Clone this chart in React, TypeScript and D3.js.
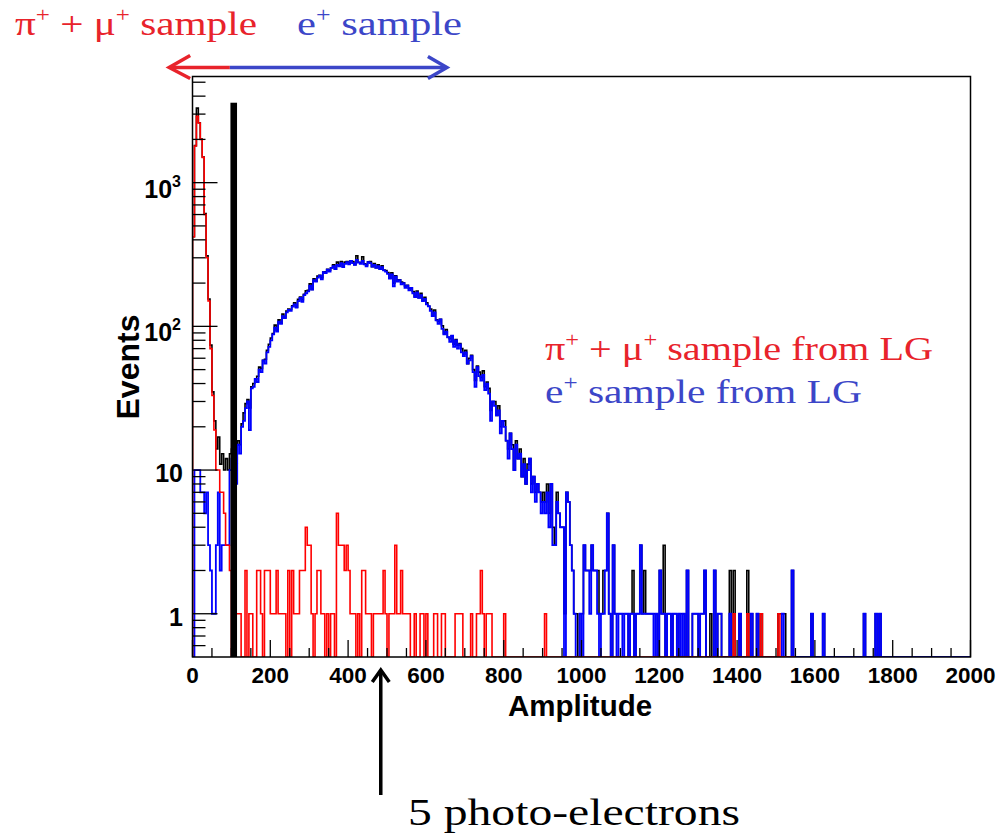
import React from "react";
import * as d3 from "d3";

// ---------------- data (bin width 5, 400 bins from 0 to 2000) ----------------
const BIN_WIDTH = 5;
const X_DOMAIN: [number, number] = [0, 2000];
const Y_DOMAIN: [number, number] = [0.5, 5480];

// pi+ + mu+ sample (red)
const redCounts = [
  420, 1800, 2900, 2600, 2000, 1500, 600, 300, 150, 70, 33, 19, 10, 10, 7, 7, 5, 3, 3, 2,
  0, 0, 1, 1, 1, 0, 0, 2, 0, 1, 1, 0, 0, 2, 2, 1, 0, 2, 2, 2,
  1, 1, 1, 2, 1, 1, 1, 1, 0, 2, 0, 2, 1, 1, 1, 2, 2, 2, 4, 3,
  3, 1, 0, 1, 2, 2, 1, 1, 0, 1, 0, 1, 1, 0, 5, 3, 3, 3, 2, 3,
  2, 1, 1, 1, 0, 1, 0, 2, 2, 1, 1, 1, 0, 1, 1, 1, 1, 1, 2, 1,
  0, 1, 1, 1, 3, 1, 1, 2, 1, 1, 1, 1, 0, 0, 1, 0, 0, 1, 1, 0,
  1, 0, 0, 0, 1, 1, 0, 0, 1, 1, 0, 0, 0, 0, 0, 1, 1, 1, 1, 0,
  0, 0, 0, 1, 0, 0, 1, 1, 2, 1, 0, 1, 1, 1, 0, 0, 0, 0, 0, 0,
  1, 0, 0, 0, 0, 0, 0, 0, 0, 0, 0, 0, 0, 0, 0, 0, 0, 0, 0, 0,
  0, 1, 0, 0, 0, 0, 0, 0, 0, 0, 0, 0, 0, 0, 0, 0, 0, 0, 0, 0,
  0, 0, 0, 0, 0, 0, 0, 0, 0, 0, 0, 0, 0, 0, 0, 0, 0, 0, 0, 0,
  0, 0, 0, 0, 0, 0, 0, 0, 0, 0, 0, 0, 0, 0, 0, 0, 0, 0, 0, 0,
  0, 0, 0, 0, 0, 0, 0, 0, 0, 0, 0, 0, 0, 0, 0, 0, 0, 0, 0, 0,
  0, 0, 0, 0, 0, 0, 0, 0, 0, 0, 0, 0, 0, 0, 0, 0, 0, 0, 1, 0,
  0, 0, 0, 0, 0, 1, 0, 0, 0, 0, 0, 0, 1, 0, 0, 0, 0, 0, 0, 0,
  0, 1, 0, 0, 0, 0, 0, 0, 0, 0, 0, 0, 0, 0, 0, 0, 0, 0, 0, 0,
  0, 0, 0, 0, 0, 0, 0, 0, 0, 0, 0, 0, 0, 0, 0, 0, 0, 0, 0, 0,
  0, 0, 0, 0, 0, 0, 0, 0, 0, 0, 0, 0, 0, 0, 0, 0, 0, 0, 0, 0,
  0, 0, 0, 0, 0, 0, 0, 0, 0, 0, 0, 0, 0, 0, 0, 0, 0, 0, 0, 0,
  0, 0, 0, 0, 0, 0, 0, 0, 0, 0, 0, 0, 0, 0, 0, 0, 0, 0, 0, 0,
];

// e+ sample (blue)
const blueCounts = [
  0, 10, 10, 10, 7, 7, 5, 7, 3, 2, 1, 1, 3, 7, 2, 3, 3, 3, 3, 10,
  12, 7, 8, 15, 13, 20, 22, 27, 30, 19, 37, 38, 43, 41, 50, 48, 58, 55, 66, 72,
  80, 88, 98, 92, 108, 104, 118, 114, 125, 130, 128, 137, 142, 135, 150, 158, 148, 165, 170, 175,
  192, 180, 210, 205, 218, 225, 212, 238, 235, 248, 240, 255, 262, 250, 268, 262, 275, 258, 272, 280,
  270, 285, 275, 268, 290, 278, 272, 285, 270, 262, 280, 275, 260, 268, 255, 262, 250, 258, 245, 240,
  232, 215, 230, 190, 222, 205, 210, 196, 200, 185, 192, 178, 185, 170, 160, 172, 158, 165, 150, 155,
  142, 138, 128, 118, 125, 110, 104, 112, 96, 88, 92, 84, 78, 86, 72, 80, 70, 75, 66, 62,
  66, 55, 58, 62, 48, 38, 52, 45, 42, 46, 36, 40, 34, 22, 30, 28, 24, 26, 18, 22,
  20, 16, 12, 18, 14, 10, 15, 12, 13, 9, 11, 8, 10, 12, 7, 9, 6, 8, 7, 5,
  6, 5, 7, 4, 8, 3, 3, 6, 5, 4, 4, 0, 7, 6, 3, 2, 1, 0, 0, 1,
  0, 3, 2, 2, 1, 3, 2, 2, 1, 0, 1, 1, 2, 5, 1, 0, 3, 1, 0, 1,
  1, 0, 1, 1, 0, 1, 1, 0, 1, 1, 3, 1, 1, 1, 1, 1, 1, 0, 1, 0,
  2, 1, 1, 0, 1, 1, 0, 1, 1, 0, 1, 0, 1, 0, 2, 0, 0, 1, 1, 1,
  0, 1, 1, 2, 0, 0, 0, 0, 2, 0, 1, 1, 0, 0, 0, 0, 1, 0, 0, 0,
  0, 1, 0, 0, 0, 0, 0, 1, 0, 0, 1, 0, 0, 0, 0, 0, 0, 0, 0, 0,
  0, 0, 0, 1, 0, 0, 0, 0, 2, 0, 0, 0, 0, 0, 0, 0, 0, 0, 1, 0,
  0, 0, 0, 0, 1, 0, 0, 0, 0, 0, 0, 0, 0, 0, 0, 0, 0, 0, 0, 0,
  0, 0, 0, 0, 0, 1, 0, 0, 0, 0, 0, 1, 0, 1, 0, 0, 0, 0, 0, 0,
  0, 0, 0, 0, 0, 0, 0, 0, 0, 0, 0, 0, 0, 0, 0, 0, 0, 0, 0, 0,
  0, 0, 0, 0, 0, 0, 0, 0, 0, 0, 0, 0, 0, 0, 0, 0, 0, 0, 0, 0,
];

// all events (black)
const blackCounts = [
  420, 1810, 3300, 2610, 2010, 1510, 610, 310, 155, 74, 35, 22, 14, 17, 11, 13, 10, 12, 10, 13,
  14, 9, 11, 16, 15, 21, 25, 29, 31, 27, 38, 40, 43, 45, 52, 51, 58, 59, 68, 75,
  83, 89, 102, 94, 111, 105, 122, 115, 128, 132, 131, 139, 146, 136, 154, 160, 153, 167, 177, 178,
  198, 181, 214, 206, 224, 227, 218, 239, 240, 249, 246, 256, 268, 250, 280, 265, 283, 261, 280, 283,
  276, 286, 282, 269, 310, 279, 278, 305, 272, 268, 281, 282, 260, 274, 256, 268, 251, 264, 247, 245,
  237, 216, 236, 200, 225, 211, 211, 203, 201, 191, 193, 184, 185, 175, 161, 176, 158, 170, 151, 159,
  146, 138, 132, 118, 130, 111, 108, 112, 101, 89, 95, 84, 82, 86, 75, 81, 74, 76, 70, 64,
  68, 55, 60, 63, 50, 42, 53, 48, 44, 49, 38, 41, 37, 26, 30, 30, 24, 28, 20, 22,
  22, 16, 14, 18, 15, 10, 16, 12, 14, 9, 12, 8, 11, 12, 8, 9, 7, 8, 7, 6,
  7, 6, 8, 5, 8, 4, 3, 7, 5, 4, 4, 1, 7, 6, 3, 2, 1, 1, 0, 1,
  1, 3, 2, 2, 2, 3, 2, 2, 2, 1, 1, 2, 2, 5, 1, 0, 3, 1, 1, 1,
  1, 1, 1, 1, 0, 1, 2, 0, 1, 1, 3, 1, 2, 1, 1, 1, 1, 1, 1, 0,
  2, 1, 3, 0, 1, 1, 0, 1, 1, 0, 1, 1, 1, 0, 2, 0, 0, 1, 1, 1,
  0, 1, 1, 2, 0, 0, 1, 0, 2, 0, 1, 1, 0, 0, 0, 0, 2, 0, 2, 0,
  0, 1, 0, 0, 0, 2, 0, 1, 0, 0, 1, 0, 1, 0, 0, 0, 0, 0, 0, 0,
  0, 1, 1, 1, 1, 0, 0, 0, 2, 0, 0, 0, 0, 0, 0, 0, 0, 0, 1, 0,
  0, 0, 0, 0, 1, 0, 0, 0, 0, 0, 0, 0, 0, 0, 0, 0, 0, 0, 0, 0,
  0, 0, 0, 0, 0, 1, 0, 0, 0, 0, 0, 1, 0, 1, 0, 0, 0, 0, 0, 0,
  0, 0, 0, 0, 0, 0, 0, 0, 0, 0, 0, 0, 0, 0, 0, 0, 0, 0, 0, 0,
  0, 0, 0, 0, 0, 0, 0, 0, 0, 0, 0, 0, 0, 0, 0, 0, 0, 0, 0, 0,
];

const xMajorTicks = [0, 200, 400, 600, 800, 1000, 1200, 1400, 1600, 1800, 2000];
const xMinorStep = 50;
const yMajorTicks = [1, 10, 100, 1000];
const yTickBase = ["1", "10", "10", "10"];
const yTickExp = ["", "", "2", "3"];

const cutAmplitude = 106; // thick vertical selection line
const cutTopEvents = 3600;
const photoElectronAmplitude = 484; // 5 p.e. arrow
const redLastDrawnBin = 310;

const xAxisTitle = "Amplitude";
const yAxisTitle = "Events";
const legendRed = "sample from LG";
const legendBlue = "sample from LG";
const peLabel = "5 photo-electrons";

// ---------------- layout ----------------
const W = 1000;
const H = 836;
const FRAME = { left: 192.5, right: 970.5, top: 76.5, bottom: 657 };

const RED = "#ff0000";
const BLUE = "#0000ff";
const TXT_RED = "#e8232b";
const TXT_BLUE = "#3c46c8";

export default function App() {
  const x = d3.scaleLinear().domain(X_DOMAIN).range([FRAME.left, FRAME.right]);
  const y = d3.scaleLog().domain(Y_DOMAIN).range([FRAME.bottom, FRAME.top]);
  const yv = (v: number) => (v > 0 ? y(v) : y(Y_DOMAIN[0]));

  const line = d3
    .line<[number, number]>()
    .x((d) => x(d[0]))
    .y((d) => yv(d[1]))
    .curve(d3.curveStepAfter);

  const histPath = (counts: number[], lastBin = counts.length) => {
    const pts: [number, number][] = [[0, 0]];
    for (let i = 0; i < lastBin; i++) pts.push([i * BIN_WIDTH, counts[i]]);
    pts.push([lastBin * BIN_WIDTH, 0]);
    return line(pts) || "";
  };

  const xMinor = d3.range(X_DOMAIN[0], X_DOMAIN[1] + 1, xMinorStep).filter((v) => !xMajorTicks.includes(v));
  const yMinor: number[] = [];
  [0.1, 1, 10, 100, 1000].forEach((d) => {
    for (let m = 2; m <= 9; m++) {
      const v = m * d;
      if (v > Y_DOMAIN[0] && v < Y_DOMAIN[1]) yMinor.push(v);
    }
  });

  const sans = "'Liberation Sans', Arial, Helvetica, sans-serif";
  const serif = "'Liberation Serif', 'Times New Roman', serif";

  const arrowY = 67.5;
  const leftTip = x(-60);
  const splitX = x(96);
  const rightTip = x(654);
  const peX = x(photoElectronAmplitude);

  return (
    <svg
      width={W}
      height={H}
      viewBox={`0 0 ${W} ${H}`}
      style={{ position: "absolute", left: 0, top: 0, background: "#fff" }}
    >
      <defs>
        <clipPath id="frameClip">
          <rect x={FRAME.left} y={FRAME.top} width={FRAME.right - FRAME.left} height={FRAME.bottom - FRAME.top} />
        </clipPath>
      </defs>
      <rect x={0} y={0} width={W} height={H} fill="#fff" />

      {/* histograms */}
      <g clipPath="url(#frameClip)" fill="none" strokeLinejoin="miter">
        <path d={histPath(blackCounts)} stroke="#000" strokeWidth={1.6} />
        <path d={histPath(blueCounts)} stroke={BLUE} strokeWidth={1.8} />
        <path d={histPath(redCounts, redLastDrawnBin)} stroke={RED} strokeWidth={1.6} />
      </g>

      {/* frame */}
      <rect
        x={FRAME.left}
        y={FRAME.top}
        width={FRAME.right - FRAME.left}
        height={FRAME.bottom - FRAME.top}
        fill="none"
        stroke="#000"
        strokeWidth={1.5}
      />

      {/* ticks */}
      <g stroke="#000" strokeWidth={1.3}>
        {xMajorTicks.map((v) => (
          <line key={"xM" + v} x1={x(v)} x2={x(v)} y1={FRAME.bottom} y2={FRAME.bottom - 17} />
        ))}
        {xMinor.map((v) => (
          <line key={"xm" + v} x1={x(v)} x2={x(v)} y1={FRAME.bottom} y2={FRAME.bottom - 9} />
        ))}
        {yMajorTicks.map((v) => (
          <line key={"yM" + v} x1={FRAME.left} x2={FRAME.left + 25} y1={y(v)} y2={y(v)} />
        ))}
        {yMinor.map((v) => (
          <line key={"ym" + v} x1={FRAME.left} x2={FRAME.left + 13} y1={y(v)} y2={y(v)} />
        ))}
      </g>

      {/* cut line */}
      <rect
        x={x(cutAmplitude) - 3.3}
        y={y(cutTopEvents)}
        width={6.6}
        height={FRAME.bottom - y(cutTopEvents)}
        fill="#000"
      />

      {/* x tick labels */}
      <g fontFamily={sans} fontWeight="bold" fontSize={22.5} textAnchor="middle" fill="#000">
        {xMajorTicks.map((v) => (
          <text key={"xl" + v} x={x(v)} y={683}>
            {v}
          </text>
        ))}
      </g>

      {/* y tick labels */}
      <g fontFamily={sans} fontWeight="bold" fontSize={25} textAnchor="end" fill="#000">
        {yMajorTicks.map((v, i) => (
          <text key={"yl" + v} x={yTickExp[i] ? 181 : 183} y={y(v) + (yTickExp[i] ? 15 : 12)}>
            {yTickBase[i]}
            {yTickExp[i] ? (
              <tspan fontSize={16} dy={-11}>
                {yTickExp[i]}
              </tspan>
            ) : null}
          </text>
        ))}
      </g>

      {/* axis titles */}
      <text x={580} y={716} fontFamily={sans} fontWeight="bold" fontSize={29.5} textAnchor="middle">
        {xAxisTitle}
      </text>
      <text
        transform="translate(139,367) rotate(-90)"
        fontFamily={sans}
        fontWeight="bold"
        fontSize={32}
        textAnchor="middle"
      >
        {yAxisTitle}
      </text>

      {/* top annotations */}
      <text x={15} y={35} fill={TXT_RED} fontFamily={serif} fontSize={33} textLength={242} lengthAdjust="spacingAndGlyphs">
        π<tspan fontSize={20} dy={-13}>+</tspan>
        <tspan dy={13}> + μ</tspan>
        <tspan fontSize={20} dy={-13}>+</tspan>
        <tspan dy={13}> sample</tspan>
      </text>
      <text x={297} y={35} fill={TXT_BLUE} fontFamily={serif} fontSize={33} textLength={165} lengthAdjust="spacingAndGlyphs">
        e<tspan fontSize={20} dy={-13}>+</tspan>
        <tspan dy={13}> sample</tspan>
      </text>
      <g fill="none" strokeWidth={3.5} strokeLinecap="butt">
        <line x1={leftTip + 2} x2={splitX} y1={arrowY} y2={arrowY} stroke={TXT_RED} />
        <line x1={splitX} x2={rightTip - 2} y1={arrowY} y2={arrowY} stroke={TXT_BLUE} />
        <polyline
          points={`${leftTip + 21},${arrowY - 12} ${leftTip},${arrowY} ${leftTip + 21},${arrowY + 11}`}
          stroke={TXT_RED}
          strokeLinejoin="miter"
        />
        <polyline
          points={`${rightTip - 19},${arrowY - 11} ${rightTip},${arrowY} ${rightTip - 19},${arrowY + 11}`}
          stroke={TXT_BLUE}
          strokeLinejoin="miter"
        />
      </g>

      {/* legend texts */}
      <text x={545} y={360} fill={TXT_RED} fontFamily={serif} fontSize={33} textLength={388} lengthAdjust="spacingAndGlyphs">
        π<tspan fontSize={20} dy={-13}>+</tspan>
        <tspan dy={13}> + μ</tspan>
        <tspan fontSize={20} dy={-13}>+</tspan>
        <tspan dy={13}> {legendRed}</tspan>
      </text>
      <text x={545} y={403} fill={TXT_BLUE} fontFamily={serif} fontSize={33} textLength={317} lengthAdjust="spacingAndGlyphs">
        e<tspan fontSize={20} dy={-13}>+</tspan>
        <tspan dy={13}> {legendBlue}</tspan>
      </text>

      {/* 5 photo-electrons arrow */}
      <g stroke="#000" strokeWidth={3.5} fill="none">
        <line x1={peX} x2={peX} y1={795} y2={672} />
        <polyline points={`${peX - 8.5},${682} ${peX},${670} ${peX + 8.5},${682}`} strokeLinejoin="miter" />
      </g>
      <text x={408} y={825} fontFamily={serif} fontSize={37} textLength={332} lengthAdjust="spacingAndGlyphs" fill="#000">
        {peLabel}
      </text>
    </svg>
  );
}
